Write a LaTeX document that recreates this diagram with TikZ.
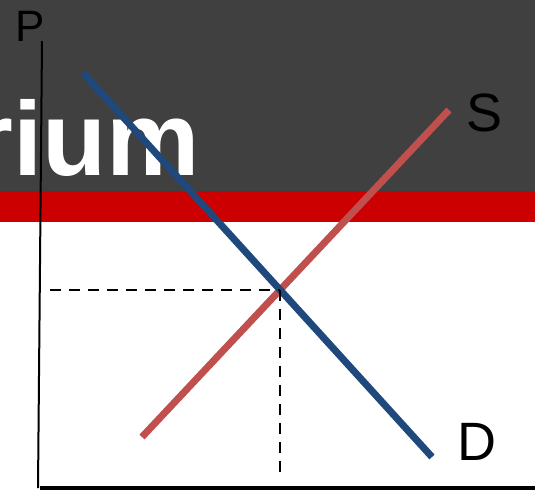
\documentclass[tikz,border=0pt]{standalone}
\usepackage{fontspec}
\setmainfont{Liberation Sans}
\usetikzlibrary{calc}
\definecolor{bggray}{RGB}{64,64,64}
\definecolor{bandred}{RGB}{204,0,0}
\definecolor{demandblue}{RGB}{31,73,125}
\definecolor{supplyred}{RGB}{192,80,77}

\begin{document}
\begin{tikzpicture}[
    x=1pt, y=-1pt,
    curve/.style={line width=7pt},
    axisline/.style={black, line width=2pt},
    guide/.style={black, line width=2.5pt, dash pattern=on 11pt off 8pt},
    axlbl/.style={inner sep=0pt, font=\fontsize{44}{44}\selectfont},
    crvlbl/.style={inner sep=0pt, font=\fontsize{54}{54}\selectfont},
]
\useasboundingbox (0,0) rectangle (535,491);
\clip (0,0) rectangle (535,491);

% slide background
\fill[white] (0,0) rectangle (535,491);
\fill[bggray] (0,0) rectangle (535,191);
\fill[bandred] (0,191) rectangle (535,222);
\node[anchor=base east, inner sep=0pt, text=white, font=\bfseries\fontsize{105}{105}\selectfont] (title) at (200,175) {rium};

% axes
\coordinate (ptop) at (42,41);
\coordinate (origin) at (38,488);
\coordinate (qend) at (535,488);
\draw[axisline] (ptop) -- (origin);
\draw[black, line width=3.5pt] (40,488) -- (qend);
\node[axlbl] (plbl) at (30,26) {P};

% supply and demand
\coordinate (Sbot) at (142,437);
\coordinate (Stop) at (449,110);
\coordinate (Dtop) at (83,73);
\coordinate (Dbot) at (432,457);
\draw[curve, supplyred] (Sbot) -- (Stop);
\draw[curve, demandblue] (Dtop) -- (Dbot);
\node[crvlbl] (slbl) at (485,113) {S};
\node[crvlbl] (dlbl) at (477,442) {D};

% equilibrium guides
\coordinate (eq) at (intersection of Dtop--Dbot and Sbot--Stop);
\coordinate (pleft) at (50,0);
\coordinate (qlow) at (0,477);
\draw[guide] (eq -| pleft) -- (eq);
\draw[guide] (eq) -- (eq |- qlow);

\end{tikzpicture}
\end{document}
